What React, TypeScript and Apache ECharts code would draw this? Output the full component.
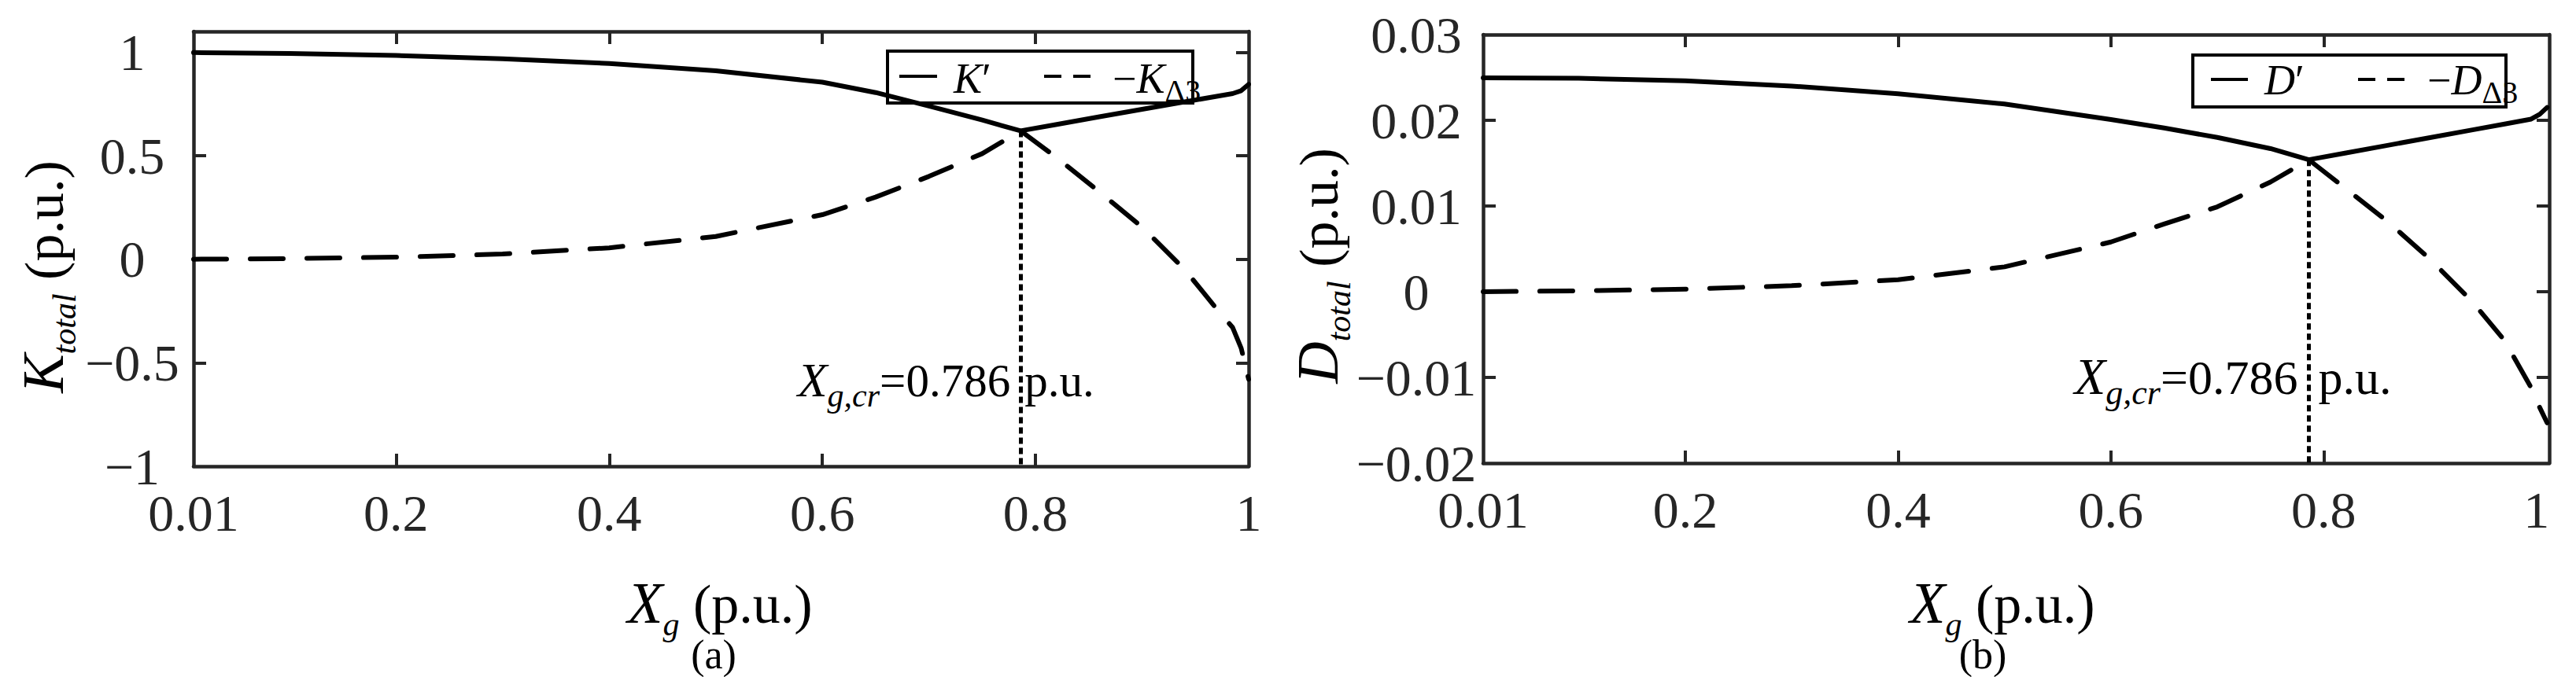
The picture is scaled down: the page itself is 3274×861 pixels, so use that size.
import React, { useEffect, useRef } from "react";
import * as echarts from "echarts";

// ---------------- data ----------------
// panel (a): stiffness
const xA = [0.01, 0.1, 0.2, 0.3, 0.4, 0.5, 0.6, 0.65, 0.7, 0.75, 0.786, 0.82, 0.86, 0.9, 0.94, 0.97, 0.985, 0.993, 1.0];
const kPrime = [0.998, 0.994, 0.984, 0.968, 0.945, 0.91, 0.855, 0.805, 0.74, 0.672, 0.62, 0.651, 0.688, 0.724, 0.76, 0.787, 0.8, 0.814, 0.845];
const kDelta3Neg = [0, 0.003, 0.01, 0.025, 0.055, 0.11, 0.215, 0.3, 0.4, 0.51, 0.62, 0.49, 0.325, 0.155, -0.05, -0.24, -0.33, -0.43, -0.58];

// panel (b): damping
const xB = [0.01, 0.1, 0.2, 0.3, 0.4, 0.5, 0.6, 0.65, 0.7, 0.75, 0.786, 0.82, 0.86, 0.9, 0.94, 0.97, 0.995, 1.003, 1.01];
const dPrime = [0.02495, 0.0249, 0.0246, 0.024, 0.0231, 0.0219, 0.0201, 0.0191, 0.018, 0.0167, 0.0154, 0.01617, 0.01708, 0.01798, 0.01889, 0.01957, 0.02014, 0.0207, 0.0215];
const dDelta3Neg = [0, 0.0001, 0.0003, 0.0007, 0.0014, 0.0029, 0.0058, 0.0079, 0.0099, 0.0128, 0.0154, 0.0121, 0.0082, 0.0038, -0.0012, -0.0057, -0.0112, -0.0135, -0.0153];

// axes
const xTickLabels = [0.01, 0.2, 0.4, 0.6, 0.8, 1];
const xTickMarks = [0.2, 0.4, 0.6, 0.8];
const kTickLabels = [-1, -0.5, 0, 0.5, 1];
const kTickMarks = [-0.5, 0, 0.5, 1];
const dTickLabels = [-0.02, -0.01, 0, 0.01, 0.02, 0.03];
const dTickMarks = [-0.01, 0, 0.01, 0.02];

const X_MIN = 0.01;
const XA_MAX = 1;
const XB_MAX = 1.012;
const KA_MIN = -1;
const KA_MAX = 1.1;
const DB_MIN = -0.02;
const DB_MAX = 0.03;

const X_CR = 0.786;
const K_CROSS = 0.62;
const D_CROSS = 0.0154;

// ---------------- styling ----------------
const FONT = "Liberation Serif";
const AXIS_COLOR = "#262626";
const INK = "#000";

function fmt(v: number): string {
  const r = Math.round(v * 10000) / 10000;
  if (r === 0) return "0";
  const s = String(Math.abs(r));
  return r < 0 ? "\u2212" + s : s;
}

function pairs(xs: number[], ys: number[]) {
  return xs.map((x, i) => [x, ys[i]]);
}

function xAxesFor(gridIndex: number, max: number) {
  const common: any = {
    type: "value",
    gridIndex,
    min: X_MIN,
    max,
    splitLine: { show: false },
    axisLine: { show: true, onZero: false, lineStyle: { color: AXIS_COLOR, width: 4.5 } },
    axisTick: { show: true, inside: true, length: 16, lineStyle: { color: AXIS_COLOR, width: 4 }, customValues: xTickMarks },
  };
  return [
    {
      ...common,
      position: "bottom",
      axisLabel: {
        show: true,
        customValues: xTickLabels,
        formatter: fmt,
        fontSize: 66,
        fontFamily: FONT,
        color: AXIS_COLOR,
        margin: 26,
      },
    },
    { ...common, position: "top", axisLabel: { show: false } },
  ];
}

function yAxesFor(gridIndex: number, min: number, max: number, labels: number[], marks: number[], margin: number) {
  const common: any = {
    type: "value",
    gridIndex,
    min,
    max,
    splitLine: { show: false },
    axisLine: { show: true, onZero: false, lineStyle: { color: AXIS_COLOR, width: 4.5 } },
    axisTick: { show: true, inside: true, length: 16, lineStyle: { color: AXIS_COLOR, width: 4 }, customValues: marks },
  };
  return [
    {
      ...common,
      position: "left",
      axisLabel: {
        show: true,
        customValues: labels,
        formatter: fmt,
        fontSize: 66,
        fontFamily: FONT,
        color: AXIS_COLOR,
        align: "center",
        margin,
        padding: [16, 0, 0, 0],
      },
    },
    { ...common, position: "right", axisLabel: { show: false } },
  ];
}

function dottedMark(yTop: number, yBottom: number) {
  return {
    silent: true,
    symbol: ["none", "none"],
    label: { show: false },
    emphasis: { disabled: true },
    lineStyle: { color: INK, width: 5, type: [8, 5] },
    data: [[{ coord: [X_CR, yTop] }, { coord: [X_CR, yBottom] }]],
  };
}

const solidStyle = { color: INK, width: 6, type: "solid", cap: "round", join: "round" };
const dashStyle = { color: INK, width: 6, type: [42, 30], cap: "round", join: "round" };

const baseOption: any = {
  animation: false,
  backgroundColor: "#fff",
  grid: [
    { left: 246, top: 40, width: 1341, height: 553 },
    { left: 1885, top: 44, width: 1355, height: 545 },
  ],
  xAxis: [...xAxesFor(0, XA_MAX), ...xAxesFor(1, XB_MAX)],
  yAxis: [
    ...yAxesFor(0, KA_MIN, KA_MAX, kTickLabels, kTickMarks, 78),
    ...yAxesFor(1, DB_MIN, DB_MAX, dTickLabels, dTickMarks, 85),
  ],
  series: [
    {
      type: "line",
      name: "K'",
      xAxisIndex: 0,
      yAxisIndex: 0,
      data: pairs(xA, kPrime),
      symbol: "none",
      lineStyle: solidStyle,
      emphasis: { disabled: true },
      markLine: dottedMark(K_CROSS, KA_MIN),
    },
    {
      type: "line",
      name: "-K_D3",
      xAxisIndex: 0,
      yAxisIndex: 0,
      data: pairs(xA, kDelta3Neg),
      symbol: "none",
      lineStyle: dashStyle,
      emphasis: { disabled: true },
    },
    {
      type: "line",
      name: "D'",
      xAxisIndex: 2,
      yAxisIndex: 2,
      data: pairs(xB, dPrime),
      symbol: "none",
      lineStyle: solidStyle,
      emphasis: { disabled: true },
      markLine: dottedMark(D_CROSS, DB_MIN),
    },
    {
      type: "line",
      name: "-D_D3",
      xAxisIndex: 2,
      yAxisIndex: 2,
      data: pairs(xB, dDelta3Neg),
      symbol: "none",
      lineStyle: dashStyle,
      emphasis: { disabled: true },
    },
  ],
};

// ---------------- text rows with real subscripts ----------------
type Piece = { t: string; fs: number; it?: boolean; dy?: number };

let measureCtx: CanvasRenderingContext2D | null = null;
function textWidth(text: string, fs: number, italic?: boolean): number {
  if (!measureCtx) measureCtx = document.createElement("canvas").getContext("2d");
  if (!measureCtx) return text.length * fs * 0.5;
  measureCtx.font = `${italic ? "italic " : ""}${fs}px "${FONT}"`;
  return measureCtx.measureText(text).width;
}

const BASELINE_K = 0.34; // distance from a middle-aligned text's anchor to its baseline, in em

function row(pieces: Piece[], anchorX: number, baseline: number, align: "left" | "center" | "right") {
  const widths = pieces.map((p) => textWidth(p.t, p.fs, p.it));
  const total = widths.reduce((a, b) => a + b, 0);
  let x = align === "left" ? anchorX : align === "center" ? anchorX - total / 2 : anchorX - total;
  return pieces.map((p, i) => {
    const el = {
      type: "text",
      x,
      y: baseline + (p.dy || 0) - BASELINE_K * p.fs,
      silent: true,
      style: {
        text: p.t,
        fontFamily: FONT,
        fontSize: p.fs,
        fontStyle: p.it ? "italic" : "normal",
        fill: INK,
        align: "left",
        verticalAlign: "middle",
      },
    };
    x += widths[i];
    return el;
  });
}

function rotatedRow(pieces: Piece[], baselineX: number, centerY: number) {
  return {
    type: "group",
    x: baselineX,
    y: centerY,
    rotation: Math.PI / 2,
    silent: true,
    children: row(pieces, 0, 0, "center"),
  };
}

function legendBox(x: number, y: number, w: number, h: number) {
  return { type: "rect", silent: true, shape: { x, y, width: w, height: h }, style: { fill: "#fff", stroke: INK, lineWidth: 4 } };
}

function legendLine(x1: number, x2: number, y: number, dashed: boolean) {
  return {
    type: "line",
    silent: true,
    shape: { x1, y1: y, x2, y2: y },
    style: { stroke: INK, lineWidth: 4, lineDash: dashed ? [22, 15] : null },
  };
}

function nameY(sym: string): Piece[] {
  return [
    { t: sym, fs: 74, it: true },
    { t: "total", fs: 42, it: true, dy: 16 },
    { t: " (p.u.)", fs: 70 },
  ];
}
const nameX: Piece[] = [
  { t: "X", fs: 74, it: true },
  { t: "g", fs: 42, it: true, dy: 16 },
  { t: " (p.u.)", fs: 70 },
];
function noteLeft(fsMain: number): Piece[] {
  return [
    { t: "X", fs: fsMain + 3, it: true },
    { t: "g,cr", fs: Math.round(fsMain * 0.71), it: true, dy: 13 },
    { t: "=0.786", fs: fsMain },
  ];
}
function legendNeg(sym: string): Piece[] {
  return [
    { t: "\u2212", fs: 54 },
    { t: sym, fs: 54, it: true },
    { t: "\u03943", fs: 40, dy: 11 },
  ];
}
function legendPrime(sym: string): Piece[] {
  return [
    { t: sym, fs: 54, it: true },
    { t: "\u2032", fs: 54 },
  ];
}

function buildGraphics(xa: number, xb: number) {
  return [
    // axis names
    rotatedRow(nameY("K"), 80, 352),
    rotatedRow(nameY("D"), 1700, 338),
    ...row(nameX, 915, 792, "center"),
    ...row(nameX, 2545, 792, "center"),
    // captions
    ...row([{ t: "(a)", fs: 52 }], 907, 850, "center"),
    ...row([{ t: "(b)", fs: 52 }], 2520, 850, "center"),
    // critical value annotations
    ...row(noteLeft(59), xa - 13, 504, "right"),
    ...row([{ t: "p.u.", fs: 59 }], xa + 5, 504, "left"),
    ...row(noteLeft(62), xb - 14, 501, "right"),
    ...row([{ t: "p.u.", fs: 62 }], xb + 12, 501, "left"),
    // legend (a)
    legendBox(1128, 65, 388, 66),
    legendLine(1143, 1191, 97, false),
    ...row(legendPrime("K"), 1212, 118, "left"),
    legendLine(1327, 1390, 97, true),
    ...row(legendNeg("K"), 1414, 118, "left"),
    // legend (b)
    legendBox(2787, 70, 398, 66),
    legendLine(2810, 2857, 101, false),
    ...row(legendPrime("D"), 2878, 120, "left"),
    legendLine(2997, 3058, 101, true),
    ...row(legendNeg("D"), 3085, 120, "left"),
  ];
}

export default function App() {
  const ref = useRef<HTMLDivElement | null>(null);
  useEffect(() => {
    document.body.style.margin = "0";
    if (!ref.current) return;
    const chart = echarts.init(ref.current, null, { renderer: "svg" });
    chart.setOption(baseOption);
    const pa = chart.convertToPixel({ xAxisIndex: 0, yAxisIndex: 0 } as any, [X_CR, 0]) as number[];
    const pb = chart.convertToPixel({ xAxisIndex: 2, yAxisIndex: 2 } as any, [X_CR, 0]) as number[];
    chart.setOption({ graphic: buildGraphics(pa[0], pb[0]) });
    return () => chart.dispose();
  }, []);
  return <div ref={ref} style={{ width: 3274, height: 861, background: "#fff" }} />;
}
